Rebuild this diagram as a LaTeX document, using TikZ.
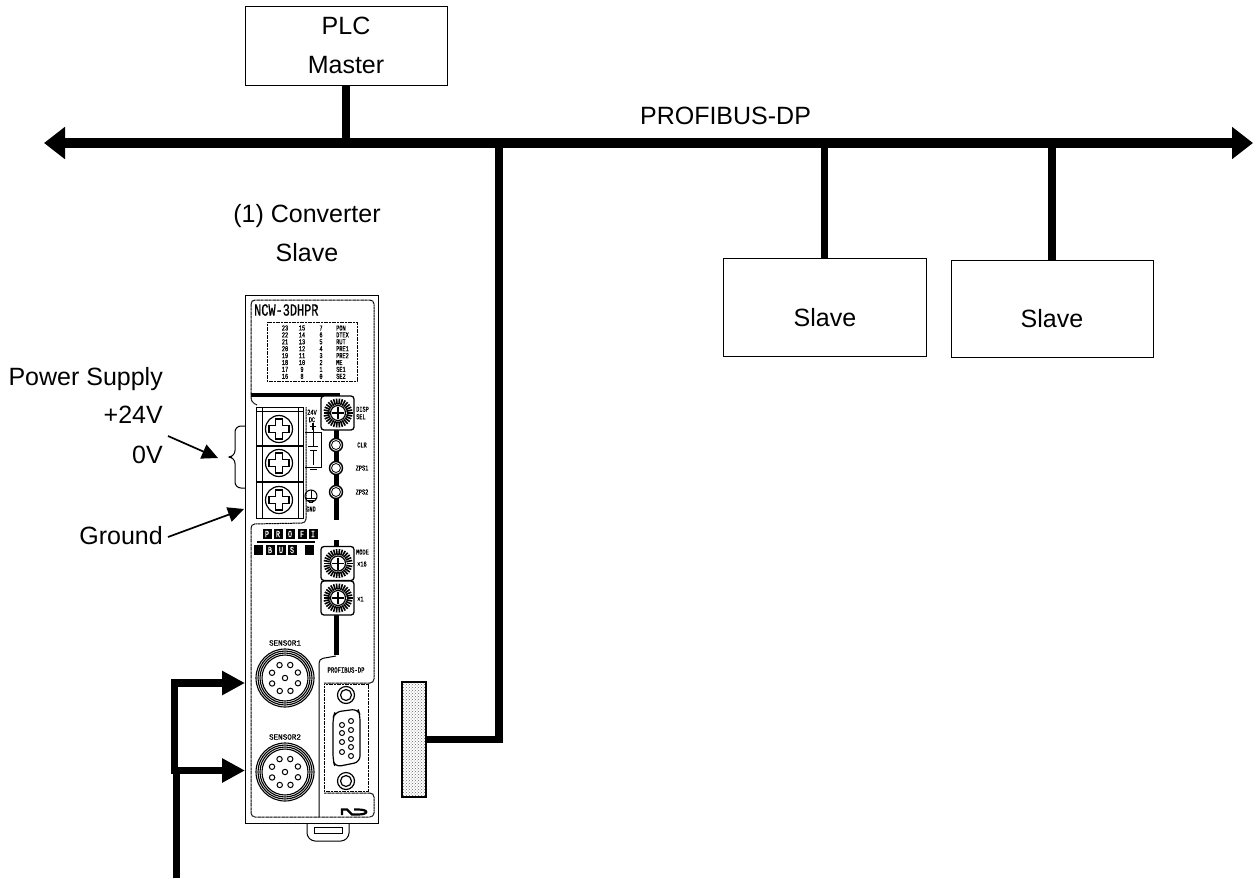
\documentclass[tikz,border=0pt]{standalone}
\usepackage{fontspec}
\setmainfont{Liberation Sans}
\newfontfamily\panelfont[FakeStretch=0.7,FakeBold=0.8]{Liberation Mono}
\newfontfamily\widepanelfont[FakeStretch=0.95,FakeBold=0.6]{Liberation Mono}
\usetikzlibrary{arrows.meta,calc,positioning,patterns}
\tikzset{
bus line/.style={draw=black,line width=7.5pt},
bus tip/.style={line width=10.5pt,{Triangle[length=21pt,width=31pt]}-{Triangle[length=21pt,width=31pt]}},
feed arrow/.style={draw=black,line width=7.5pt,-{Triangle[length=23pt,width=23pt]}},
note arrow/.style={draw=black,line width=1.7pt,-{Triangle[length=16pt,width=15pt]}},
station box/.style={draw=black,line width=0.9pt,fill=white,align=center,font=\fontsize{25}{39.5}\selectfont,inner sep=0pt},
fig label/.style={font=\fontsize{25}{39.5}\selectfont,align=center,inner sep=0pt},
panel line/.style={draw=black,line width=1pt},
inner line/.style={draw=black,line width=1pt,dash pattern=on 1.2pt off 0.4pt},
tiny print/.style={font=\fontsize{7.5}{7.5}\panelfont,inner sep=0pt},
logo print/.style={font=\fontsize{9.5}{9.5}\panelfont,text=white,inner sep=0pt},
sensor print/.style={font=\fontsize{8}{8}\widepanelfont,inner sep=0pt}
}
\newcommand{\rotaryswitch}[2]{
\draw[panel line,line width=1.3pt,rounded corners=3pt,fill=white] ($(#1,#2)+(-17,-17)$) rectangle ($(#1,#2)+(16,17)$);
\foreach \ang in {0,12,...,348} \draw[black,line width=1.6pt] ($(#1,#2)+(\ang:8.5)$) -- ($(#1,#2)+(\ang:14.5)$);
\draw[line width=1.2pt] (#1,#2) circle (7.5);
\draw[line width=1.2pt] ($(#1,#2)+(-6,0)$) -- ($(#1,#2)+(6,0)$) ($(#1,#2)+(0,-6)$) -- ($(#1,#2)+(0,6)$);
}
\newcommand{\sensorport}[2]{
\draw[line width=1.1pt] (#1,#2) circle (29) circle (27) circle (25) circle (23);
\foreach \ang in {22,67,...,337} \draw[line width=1pt] ($(#1,#2)+(\ang:14)$) circle (2.7);
\draw[line width=1pt] (#1,#2) circle (2.7);
}
\newcommand{\fixscrew}[2]{
\draw[line width=1.2pt] (#1,#2) circle (8.5) circle (5.5);
}
\begin{document}
\begin{tikzpicture}[x=1pt,y=-1pt]
\useasboundingbox (0,0) rectangle (1258,878);
\fill[white] (0,0) rectangle (1258,878);

\node[station box,minimum width=202pt,minimum height=79pt] (plc) at (346,45.5) {PLC\\Master};
\node[station box,minimum width=203pt,minimum height=98pt] (slavea) at (824.5,307) {};
\node[station box,minimum width=202pt,minimum height=97pt] (slaveb) at (1052,308.5) {};
\node[fig label] (slavealabel) at (825,318) {Slave};
\node[fig label] (slaveblabel) at (1052,319) {Slave};
\coordinate (busl) at (44,143);
\coordinate (busr) at (1253,143);
\node[fig label] (buslabel) at (725.5,115.5) {PROFIBUS-DP};
\node[fig label] (convlabel) at (307,233) {(1) Converter\\Slave};
\draw[bus tip] (busl) -- (busr);
\draw[bus line] (plc.south) -- (plc.south |- busl);
\draw[bus line] (slavea.north) -- (slavea.north |- busl);
\draw[bus line] (slaveb.north) -- (slaveb.north |- busl);

\draw[panel line] (245,295) rectangle (378.5,823);
\draw[panel line,rounded corners=3pt] (307,823) -- (307,836) -- (312,841) -- (344,841) -- (349,836) -- (349,823);
\draw[panel line] (314,827) rectangle (342,833);
\draw[inner line,rounded corners=4pt] (257,405) -- (251,402) -- (251,300) -- (374,300) -- (374,683) -- (324,683);
\draw[inner line,rounded corners=4pt] (306,407) -- (306,523) -- (251,524) -- (251,817) -- (374,817) -- (374,793) -- (324,793);
\draw[panel line,rounded corners=4pt] (319,817) -- (319,659) -- (336,656);
\draw[inner line] (324,684) rectangle (368,791);
\draw[line width=4.5pt] (251,395) -- (338,395) -- (338,400);
\draw[line width=5pt] (336,425) -- (336,520) (336,540) -- (336,655);
\node[anchor=west,font=\fontsize{17}{17}\panelfont,inner sep=0pt] (devname) at (254,310) {NCW-3DHPR};
\draw[inner line] (267,322) rectangle (357,381);
\foreach \a/\b/\c/\d [count=\i from 0] in {23/15/7/PON,22/14/6/DTEX,21/13/5/RUT,20/12/4/PRE1,19/11/3/PRE2,18/10/2/ME,17/9/1/SE1,16/8/0/SE2} {
\node[tiny print] at (285,328+\i*6.9) {\a};
\node[tiny print] at (302,328+\i*6.9) {\b};
\node[tiny print] at (321,328+\i*6.9) {\c};
\node[tiny print,anchor=west] at (336,328+\i*6.9) {\d};
}
\draw[panel line,fill=white] (256,407) rectangle (303,518);
\draw[panel line] (262,407) -- (262,518) (298,407) -- (298,518) (256,411) -- (303,411);
\foreach \y in {446,482} \draw[line width=1.5pt] (256,\y) -- (303,\y);
\foreach \y in {429,463,500} {
\draw[line width=1.2pt,fill=white] (279,\y) circle (13.5);
\draw[line width=1.2pt] (275.5,\y-10) -- (282.5,\y-10) -- (282.5,\y-3.5) -- (289,\y-3.5) -- (289,\y+3.5) -- (282.5,\y+3.5) -- (282.5,\y+10) -- (275.5,\y+10) -- (275.5,\y+3.5) -- (269,\y+3.5) -- (269,\y-3.5) -- (275.5,\y-3.5) -- cycle;
}
\node[tiny print,align=center] at (312,416) {24V\\DC};
\draw[line width=1.2pt] (313,423) -- (313,430) (310,426.5) -- (316,426.5);
\draw[line width=1pt] (313,430) -- (313,446) (308,446) -- (318,446) (305,432) -- (321,432) -- (321,467) -- (305,467) (310,450.5) -- (317,450.5) (313,450.5) -- (313,465);
\draw[line width=1.2pt] (309.5,469.5) -- (316.5,469.5);
\draw[line width=1pt] (311,496) circle (6);
\draw[line width=1pt] (311,490) -- (311,498) (305,498) -- (317,498) (307,500) -- (315,500) (309,502) -- (313,502);
\node[tiny print] at (311,509) {GND};
\rotaryswitch{338}{413}
\rotaryswitch{338}{563.5}
\rotaryswitch{338}{598}
\foreach \y in {445,468,492} {
\draw[line width=1.4pt,fill=white] (336,\y) circle (6.5);
\draw[line width=0.8pt] (336,\y) circle (4.5);
}
\node[tiny print,align=left,anchor=west] at (356,413) {DISP\\SEL};
\node[tiny print] at (362,445) {CLR};
\node[tiny print] at (362,468) {ZPS1};
\node[tiny print] at (362,492) {ZPS2};
\node[tiny print,anchor=west] at (356,552) {MODE};
\node[tiny print,anchor=west] at (357,564) {×16};
\node[tiny print,anchor=west] at (357,599) {×1};
\foreach \x/\l in {267/P,278/R,290/O,302/F,313/I} {
\fill (\x-4.5,529) rectangle (\x+4.5,539);
\node[logo print] at (\x,534) {\l};
}
\draw[line width=2.4pt] (257,542) -- (315,542);
\foreach \x/\l in {258/{},270/B,281/U,292/S,309/{}} {
\fill (\x-4.5,545) rectangle (\x+4.5,555);
\node[logo print] at (\x,550) {\l};
}
\node[sensor print] at (285,643) {SENSOR1};
\node[sensor print] at (285,737) {SENSOR2};
\sensorport{285}{678}
\sensorport{285}{772}
\node[tiny print,font=\fontsize{8}{8}\panelfont] at (346,670) {PROFIBUS-DP};
\fixscrew{346}{695}
\fixscrew{346}{781}
\draw[line width=1.2pt,rounded corners=6pt] (335,712) -- (358,709) -- (360,715) -- (360,762) -- (335,767) -- (333,760) -- (333,718) -- cycle;
\foreach \y in {725,733,742,752} \draw[line width=1pt] (342,\y) circle (2.5);
\foreach \y in {721,730,739,747,756} \draw[line width=1pt] (351,\y) circle (2.5);
\draw[line width=2.2pt] (342,815) -- (342,809.5) -- (347,809.5) -- (352,814.5) -- (358,814.5) .. controls (369,814.5) and (369,809.5) .. (358,809.5) -- (354,809.5);

\node[draw=black,line width=2.6pt,pattern=crosshatch dots,pattern color=black!60,minimum width=24pt,minimum height=115pt,inner sep=0pt] (plug) at (414,739.5) {};
\coordinate (plugbend) at (499,739.5);
\draw[bus line,line join=miter] (plug.east) -- (plugbend) -- (plugbend |- busl);

\coordinate (feedend) at (176.5,878);
\coordinate (feedtop) at (174.5,683);
\coordinate (feedmid) at (174.5,770.5);
\coordinate (sensa) at (245,683);
\coordinate (sensb) at (245,770.5);
\draw[bus line] (feedend) -- (176.5,770.5);
\draw[bus line] (174.5,774) -- (174.5,679);
\draw[feed arrow] (feedtop) -- (sensa);
\draw[feed arrow] (feedmid) -- (sensb);

\node[fig label,anchor=base east] (power) at (163,385) {Power Supply};
\node[fig label,anchor=base east] (plus) at (163,423) {+24V};
\node[fig label,anchor=base east] (zero) at (163,463) {0V};
\node[fig label,anchor=base east] (ground) at (163,544) {Ground};
\coordinate (pwrstart) at (168,436);
\coordinate (pwrtip) at (218,458);
\coordinate (gndstart) at (168,537);
\coordinate (gndtip) at (244,509);
\draw[note arrow] (pwrstart) -- (pwrtip);
\draw[note arrow] (gndstart) -- (gndtip);
\draw[line width=1pt,rounded corners=6pt] (245,426) -- (235,426) -- (235,456.5) -- (226,457) -- (235,457.5) -- (235,488) -- (245,488);
\end{tikzpicture}
\end{document}
